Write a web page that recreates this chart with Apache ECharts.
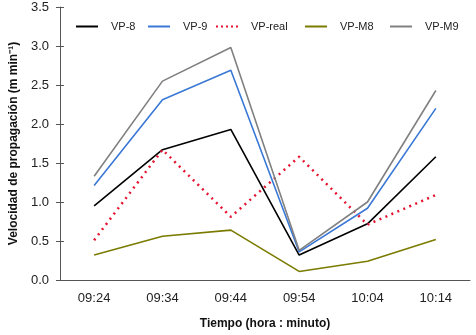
<!DOCTYPE html>
<html>
<head>
<meta charset="utf-8">
<script src="https://cdn.jsdelivr.net/npm/echarts@6/dist/echarts.min.js"></script>
<style>html,body{margin:0;padding:0;background:#fff}#main{width:476px;height:335px}</style>
</head>
<body>
<div id="main"></div>
<script>
// datos
var horas = ['09:24', '09:34', '09:44', '09:54', '10:04', '10:14'];
var vp8 = [0.95, 1.67, 1.93, 0.32, 0.72, 1.58];
var vp9 = [1.21, 2.31, 2.69, 0.36, 0.92, 2.20];
var vpReal = [0.51, 1.67, 0.81, 1.58, 0.71, 1.09];
var vpM8 = [0.32, 0.56, 0.64, 0.11, 0.24, 0.52];
var vpM9 = [1.33, 2.55, 2.98, 0.38, 1.00, 2.43];

var nombres = ['VP-8', 'VP-9', 'VP-real', 'VP-M8', 'VP-M9'];
var leyendaX = [71, 143, 211, 300, 385];

var chart = echarts.init(document.getElementById('main'));

var ejeColor = '#555';
var fuente = '"Liberation Sans", Arial, sans-serif';
var puntos = 'path://M0,0h2v2h-2zM5,0h2v2h-2zM10,0h2v2h-2zM15,0h2v2h-2zM20,0h2v2h-2z';

function serie(nombre, datos, color, tipo, ancho) {
  return {
    name: nombre,
    type: 'line',
    data: datos,
    symbol: 'none',
    xAxisIndex: 0,
    yAxisIndex: 0,
    lineStyle: { color: color, width: ancho || 1.6, type: tipo || 'solid', cap: 'butt' },
    itemStyle: { color: color },
    z: 3
  };
}

// una leyenda por serie para ubicar cada item
var leyendas = nombres.map(function (n, i) {
  return {
    left: leyendaX[i],
    top: 16,
    itemWidth: 22,
    itemHeight: 2,
    textStyle: { fontSize: 11, color: '#222', fontFamily: fuente, padding: [0, 0, 0, 8] },
    data: [{ name: n, icon: n === 'VP-real' ? puntos : 'rect' }]
  };
});

var option = {
  animation: false,
  textStyle: { fontFamily: fuente },
  grid: { left: 54, right: 6, top: 7, bottom: 50 },
  legend: leyendas,
  xAxis: [
    {
      type: 'category',
      data: horas,
      boundaryGap: true,
      name: 'Tiempo (hora : minuto)',
      nameLocation: 'middle',
      nameGap: 38,
      nameTextStyle: { fontSize: 12, fontWeight: 'bold', color: '#111', fontFamily: fuente },
      axisLine: { lineStyle: { color: ejeColor, width: 1 } },
      axisTick: { alignWithLabel: true, length: 4, lineStyle: { color: ejeColor } },
      axisLabel: { fontSize: 13, color: '#222', margin: 12, fontFamily: fuente }
    },
    {
      type: 'category',
      data: horas,
      boundaryGap: true,
      position: 'bottom',
      axisLine: { show: false },
      axisTick: { inside: true, alignWithLabel: true, length: 4, lineStyle: { color: ejeColor } },
      axisLabel: { show: false }
    }
  ],
  yAxis: [
    {
      type: 'value',
      min: 0,
      max: 3.5,
      interval: 0.5,
      name: 'Velocidad de propagación (m min⁻¹)',
      nameLocation: 'middle',
      nameGap: 38,
      nameTextStyle: { fontSize: 12, fontWeight: 'bold', color: '#111', fontFamily: fuente },
      axisLine: { show: true, lineStyle: { color: ejeColor, width: 1 } },
      axisTick: { show: true, length: 4, lineStyle: { color: ejeColor } },
      splitLine: { show: false },
      axisLabel: {
        fontSize: 13, color: '#222', margin: 11, fontFamily: fuente,
        formatter: function (v) { return v.toFixed(1); }
      }
    },
    {
      type: 'value',
      min: 0,
      max: 3.5,
      interval: 0.5,
      position: 'left',
      axisLine: { show: false },
      axisTick: { show: true, inside: true, length: 4, lineStyle: { color: ejeColor } },
      splitLine: { show: false },
      axisLabel: { show: false }
    }
  ],
  series: [
    serie('VP-8', vp8, '#000000'),
    serie('VP-9', vp9, '#3a78d6'),
    serie('VP-real', vpReal, '#e5132f', [2, 4.5], 2.5),
    serie('VP-M8', vpM8, '#7b7b00'),
    serie('VP-M9', vpM9, '#808080')
  ]
};

chart.setOption(option);
</script>
</body>
</html>
